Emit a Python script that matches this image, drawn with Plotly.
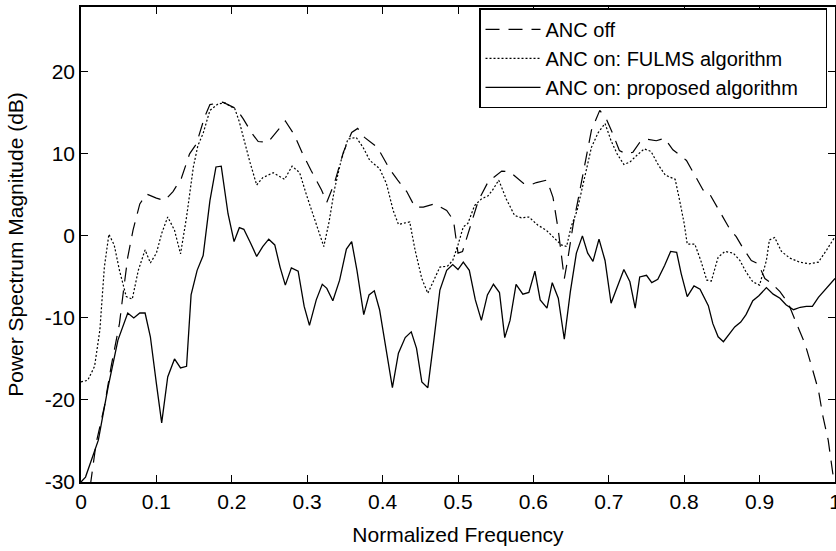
import plotly.graph_objects as go

# ANC off (dashed)
off_x = [0.0, 0.013, 0.020, 0.031, 0.040, 0.051, 0.057, 0.062, 0.069, 0.078, 0.087, 0.100, 0.111, 0.122,
         0.133, 0.144, 0.153, 0.164, 0.171, 0.188, 0.206, 0.215, 0.226, 0.235, 0.248, 0.261, 0.271, 0.283,
         0.294, 0.305, 0.319, 0.326, 0.336, 0.348, 0.359, 0.367, 0.376, 0.393, 0.409, 0.420, 0.432, 0.443,
         0.454, 0.469, 0.485, 0.494, 0.500, 0.506, 0.516, 0.527, 0.540, 0.558, 0.569, 0.587, 0.596, 0.604,
         0.618, 0.626, 0.633, 0.641, 0.646, 0.653, 0.659, 0.668, 0.677, 0.688, 0.697, 0.706, 0.714, 0.723,
         0.732, 0.741, 0.750, 0.763, 0.774, 0.785, 0.794, 0.803, 0.814, 0.825, 0.832, 0.840, 0.852, 0.860,
         0.869, 0.878, 0.889, 0.898, 0.907, 0.916, 0.927, 0.938, 0.949, 0.960, 0.969, 0.978, 0.984, 0.991,
         0.997, 1.0]
off_y = [-33.0, -30.0, -25.3, -20.8, -15.9, -10.7, -6.2, -2.6, 0.7, 3.9, 5.1, 4.6, 4.3, 5.4,
         7.0, 10.0, 11.2, 14.5, 16.0, 16.3, 15.5, 14.3, 12.6, 11.5, 11.4, 12.9, 14.0, 12.3,
         10.0, 8.0, 5.6, 4.1, 6.4, 10.2, 12.6, 13.1, 12.0, 10.8, 8.2, 6.8, 5.4, 3.5,
         3.5, 3.9, 3.1, 1.9, -2.1, -1.9, 1.1, 4.3, 6.6, 7.9, 7.8, 6.4, 6.2, 6.5,
         6.8, 4.7, 0.7, -5.2, -2.6, 1.5, 4.3, 8.8, 12.9, 15.3, 14.2, 12.3, 10.4, 10.0,
         10.2, 11.4, 11.8, 11.6, 11.9, 10.5, 9.8, 9.2, 7.4, 5.6, 5.4, 4.1, 2.1, 0.9,
         -0.1, -1.5, -3.0, -3.4, -5.2, -5.8, -6.8, -8.2, -10.7, -13.1, -15.9, -18.8, -22.0, -24.9,
         -28.9, -30.6]

# ANC on: FULMS algorithm (dotted)
fulms_x = [0.0, 0.009, 0.018, 0.025, 0.031, 0.037, 0.044, 0.051, 0.060, 0.068, 0.076, 0.085, 0.092, 0.100,
           0.107, 0.115, 0.124, 0.132, 0.140, 0.149, 0.155, 0.162, 0.171, 0.182, 0.191, 0.204, 0.210,
           0.217, 0.224, 0.233, 0.241, 0.255, 0.270, 0.280, 0.290, 0.299, 0.310, 0.322, 0.329, 0.336,
           0.345, 0.354, 0.365, 0.374, 0.383, 0.396, 0.405, 0.414, 0.421, 0.436, 0.443, 0.452, 0.460,
           0.468, 0.476, 0.486, 0.493, 0.500, 0.507, 0.513, 0.522, 0.531, 0.540, 0.546, 0.554, 0.564,
           0.575, 0.584, 0.594, 0.606, 0.617, 0.628, 0.637, 0.644, 0.650, 0.658, 0.666, 0.677, 0.686,
           0.695, 0.703, 0.711, 0.720, 0.728, 0.737, 0.747, 0.756, 0.766, 0.775, 0.788, 0.794, 0.800,
           0.804, 0.814, 0.822, 0.830, 0.836, 0.845, 0.854, 0.865, 0.874, 0.882, 0.891, 0.900, 0.909,
           0.913, 0.920, 0.929, 0.940, 0.953, 0.966, 0.978, 0.989, 1.0]
fulms_y = [-17.8, -17.6, -15.9, -11.5, -3.8, 0.2, -1.1, -4.2, -7.4, -7.7, -4.2, -1.7, -3.3, -2.1,
           0.3, 2.3, 0.7, -2.2, 2.3, 8.4, 11.0, 12.5, 15.3, 16.1, 16.2, 15.5, 13.9,
           11.4, 9.0, 6.2, 7.1, 7.7, 6.9, 8.5, 7.7, 5.0, 2.1, -1.3, 1.7, 5.6,
           9.2, 11.8, 12.0, 10.8, 9.2, 8.2, 6.4, 3.1, 1.4, 1.7, -1.7, -5.2, -7.0,
           -5.3, -3.8, -3.7, -3.0, -1.1, 1.1, 1.5, 3.7, 4.5, 4.9, 5.6, 6.8, 4.5,
           2.5, 2.2, 2.3, 1.3, 0.7, -0.3, -1.1, -1.3, 1.1, 3.1, 6.4, 10.8, 12.6,
           13.7, 11.6, 10.0, 8.7, 9.0, 9.8, 10.6, 10.3, 8.6, 7.4, 6.9, 4.3, 1.5,
           -1.0, -1.0, -3.0, -5.4, -5.5, -2.6, -1.9, -2.1, -3.0, -4.4, -5.6, -6.0, -3.0,
           -0.5, -0.2, -1.9, -2.7, -3.2, -3.4, -3.2, -1.7, -0.1]

# ANC on: proposed algorithm (solid)
prop_x = [0.0, 0.006, 0.023, 0.036, 0.049, 0.062, 0.070, 0.078, 0.085, 0.092, 0.100, 0.107, 0.115, 0.124,
          0.132, 0.140, 0.146, 0.154, 0.162, 0.171, 0.179, 0.186, 0.195, 0.203, 0.210, 0.216, 0.225,
          0.233, 0.241, 0.249, 0.257, 0.264, 0.271, 0.279, 0.288, 0.296, 0.303, 0.312, 0.320, 0.326,
          0.334, 0.343, 0.352, 0.359, 0.366, 0.375, 0.382, 0.389, 0.396, 0.405, 0.413, 0.421, 0.430,
          0.438, 0.445, 0.452, 0.460, 0.468, 0.476, 0.485, 0.493, 0.500, 0.507, 0.515, 0.523, 0.531,
          0.539, 0.547, 0.555, 0.562, 0.569, 0.577, 0.586, 0.594, 0.602, 0.609, 0.618, 0.625, 0.633,
          0.641, 0.649, 0.657, 0.665, 0.672, 0.679, 0.687, 0.695, 0.703, 0.711, 0.720, 0.728, 0.735,
          0.741, 0.750, 0.757, 0.765, 0.774, 0.782, 0.790, 0.796, 0.804, 0.813, 0.821, 0.832, 0.838,
          0.845, 0.852, 0.859, 0.867, 0.875, 0.882, 0.891, 0.899, 0.909, 0.918, 0.927, 0.935, 0.945,
          0.954, 0.962, 0.970, 0.978, 0.989, 1.0]
prop_y = [-30.0, -29.4, -24.9, -18.4, -12.7, -9.4, -10.0, -9.4, -9.4, -12.3, -18.0, -22.8, -17.2, -15.0,
          -16.1, -15.9, -7.2, -4.2, -2.4, 4.3, 8.4, 8.5, 2.7, -0.7, 1.0, 0.8, -0.9,
          -2.5, -1.3, -0.4, -1.1, -3.8, -6.0, -3.9, -4.3, -8.6, -10.9, -7.8, -5.9, -6.4,
          -7.9, -5.4, -1.6, -0.7, -4.2, -9.6, -7.2, -6.7, -9.0, -13.9, -18.5, -14.3, -12.4,
          -11.7, -13.7, -17.8, -18.5, -12.7, -6.6, -4.2, -3.5, -4.1, -3.2, -4.2, -7.8, -10.3,
          -7.2, -5.9, -6.9, -12.4, -10.3, -5.9, -7.1, -6.9, -4.3, -7.8, -8.8, -5.7, -7.6,
          -12.6, -6.8, -2.1, 0.0, -2.1, -3.1, -0.4, -3.0, -8.2, -6.2, -4.1, -5.6, -8.8,
          -5.0, -4.8, -5.7, -5.3, -3.6, -1.9, -2.0, -4.6, -7.4, -6.1, -6.5, -8.5, -10.7,
          -12.3, -12.9, -12.1, -11.1, -10.5, -9.6, -7.9, -7.3, -6.3, -7.1, -7.6, -8.4, -9.0,
          -8.7, -8.6, -8.6, -7.5, -6.4, -5.2]

series_names = ["ANC off", "ANC on: FULMS algorithm", "ANC on: proposed algorithm"]

x_ticks = [0, 0.1, 0.2, 0.3, 0.4, 0.5, 0.6, 0.7, 0.8, 0.9, 1]
x_tick_text = ["0", "0.1", "0.2", "0.3", "0.4", "0.5", "0.6", "0.7", "0.8", "0.9", "1"]
y_ticks = [-30, -20, -10, 0, 10, 20]
y_tick_text = ["-30", "-20", "-10", "0", "10", "20"]

FONT = "Liberation Sans, Arial, Helvetica, sans-serif"
PAD = "\u00a0\u00a0\u00a0\u00a0"  # right padding inside the legend box

fig = go.Figure()
fig.add_trace(go.Scatter(x=off_x, y=off_y, mode="lines", name=series_names[0] + PAD,
                         line=dict(color="black", width=1.2, dash="14px,9px")))
fig.add_trace(go.Scatter(x=fulms_x, y=fulms_y, mode="lines", name=series_names[1] + PAD,
                         line=dict(color="black", width=1.2, dash="2px,2px")))
fig.add_trace(go.Scatter(x=prop_x, y=prop_y, mode="lines", name=series_names[2] + PAD,
                         line=dict(color="black", width=1.3)))

axis_common = dict(showgrid=False, zeroline=False, showline=True, linecolor="black", linewidth=1.5,
                   mirror="ticks", ticks="inside", ticklen=7, tickwidth=1.2, tickcolor="black",
                   automargin=False, ticklabeloverflow="allow",
                   tickfont=dict(family=FONT, size=21, color="black"))

fig.update_xaxes(range=[0, 1], tickvals=x_ticks, ticktext=x_tick_text,
                 title=dict(text="Normalized Frequency", font=dict(family=FONT, size=21, color="black")),
                 **axis_common)
fig.update_yaxes(range=[-30, 27.9], tickvals=y_ticks, ticktext=y_tick_text,
                 title=dict(text="Power Spectrum Magnitude (dB)",
                            font=dict(family=FONT, size=21, color="black")),
                 **axis_common)

fig.update_layout(
    width=836, height=551,
    margin=dict(l=81, r=1, t=7, b=69),
    paper_bgcolor="white", plot_bgcolor="white",
    font=dict(family=FONT, size=21, color="black"),
    showlegend=True,
    legend=dict(x=0.9894, y=0.997, xanchor="right", yanchor="top",
                bgcolor="white", bordercolor="black", borderwidth=1.5,
                font=dict(family=FONT, size=20, color="black"),
                itemwidth=55, tracegroupgap=0),
)

fig.write_html("out.html", config={"displayModeBar": False},
               post_script="document.body.style.margin='0';document.body.style.overflow='hidden';")
